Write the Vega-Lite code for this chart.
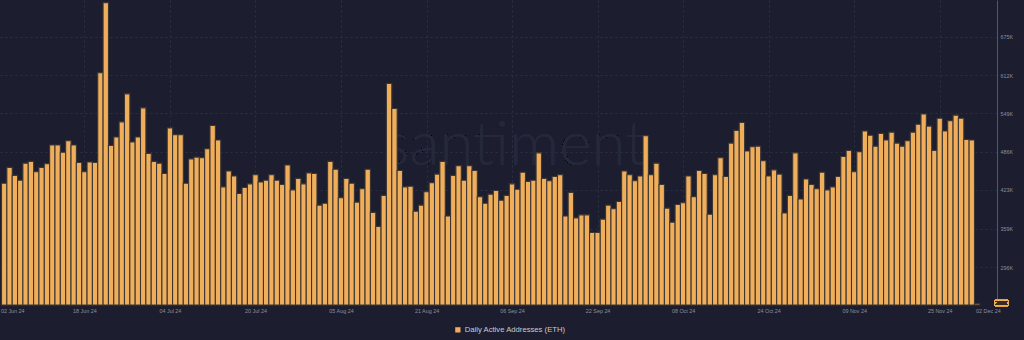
{
  "$schema": "https://vega.github.io/schema/vega-lite/v6.json",
  "width": 997,
  "height": 305,
  "autosize": {"type": "none"},
  "padding": {"left": 0, "top": 0, "right": 27, "bottom": 35},
  "background": "#1c1e2f",
  "config": {
    "font": "Liberation Sans",
    "view": {"stroke": null}
  },
  "data": {
    "values": [
      {"date": "2024-06-03", "value": 434000}, {"date": "2024-06-04", "value": 460000}, {"date": "2024-06-05", "value": 447000}, {"date": "2024-06-06", "value": 439000}, {"date": "2024-06-07", "value": 467000}, {"date": "2024-06-08", "value": 470000}, {"date": "2024-06-09", "value": 453000}, {"date": "2024-06-10", "value": 460000}, {"date": "2024-06-11", "value": 466000}, {"date": "2024-06-12", "value": 497000}, {"date": "2024-06-13", "value": 497000}, {"date": "2024-06-14", "value": 485000}, {"date": "2024-06-15", "value": 504000}, {"date": "2024-06-16", "value": 497000}, {"date": "2024-06-17", "value": 468000}, {"date": "2024-06-18", "value": 453000}, {"date": "2024-06-19", "value": 469000}, {"date": "2024-06-20", "value": 468000}, {"date": "2024-06-21", "value": 616000}, {"date": "2024-06-22", "value": 731000}, {"date": "2024-06-23", "value": 496000}, {"date": "2024-06-24", "value": 510000}, {"date": "2024-06-25", "value": 535000}, {"date": "2024-06-26", "value": 581000}, {"date": "2024-06-27", "value": 502000}, {"date": "2024-06-28", "value": 510000}, {"date": "2024-06-29", "value": 558000}, {"date": "2024-06-30", "value": 483000},
      {"date": "2024-07-01", "value": 470000}, {"date": "2024-07-02", "value": 467000}, {"date": "2024-07-03", "value": 450000}, {"date": "2024-07-04", "value": 525000}, {"date": "2024-07-05", "value": 514000}, {"date": "2024-07-06", "value": 514000}, {"date": "2024-07-07", "value": 434000}, {"date": "2024-07-08", "value": 474000}, {"date": "2024-07-09", "value": 477000}, {"date": "2024-07-10", "value": 476000}, {"date": "2024-07-11", "value": 491000}, {"date": "2024-07-12", "value": 529000}, {"date": "2024-07-13", "value": 505000}, {"date": "2024-07-14", "value": 428000}, {"date": "2024-07-15", "value": 454000}, {"date": "2024-07-16", "value": 446000}, {"date": "2024-07-17", "value": 417000}, {"date": "2024-07-18", "value": 427000}, {"date": "2024-07-19", "value": 433000}, {"date": "2024-07-20", "value": 448000}, {"date": "2024-07-21", "value": 436000}, {"date": "2024-07-22", "value": 439000}, {"date": "2024-07-23", "value": 448000}, {"date": "2024-07-24", "value": 439000}, {"date": "2024-07-25", "value": 432000}, {"date": "2024-07-26", "value": 464000}, {"date": "2024-07-27", "value": 423000}, {"date": "2024-07-28", "value": 442000}, {"date": "2024-07-29", "value": 433000}, {"date": "2024-07-30", "value": 451000}, {"date": "2024-07-31", "value": 450000},
      {"date": "2024-08-01", "value": 398000}, {"date": "2024-08-02", "value": 401000}, {"date": "2024-08-03", "value": 470000}, {"date": "2024-08-04", "value": 457000}, {"date": "2024-08-05", "value": 410000}, {"date": "2024-08-06", "value": 442000}, {"date": "2024-08-07", "value": 434000}, {"date": "2024-08-08", "value": 403000}, {"date": "2024-08-09", "value": 425000}, {"date": "2024-08-10", "value": 457000}, {"date": "2024-08-11", "value": 386000}, {"date": "2024-08-12", "value": 363000}, {"date": "2024-08-13", "value": 414000}, {"date": "2024-08-14", "value": 598000}, {"date": "2024-08-15", "value": 557000}, {"date": "2024-08-16", "value": 455000}, {"date": "2024-08-17", "value": 428000}, {"date": "2024-08-18", "value": 429000}, {"date": "2024-08-19", "value": 388000}, {"date": "2024-08-20", "value": 398000}, {"date": "2024-08-21", "value": 420000}, {"date": "2024-08-22", "value": 435000}, {"date": "2024-08-23", "value": 449000}, {"date": "2024-08-24", "value": 470000}, {"date": "2024-08-25", "value": 380000}, {"date": "2024-08-26", "value": 447000}, {"date": "2024-08-27", "value": 463000}, {"date": "2024-08-28", "value": 439000}, {"date": "2024-08-29", "value": 463000}, {"date": "2024-08-30", "value": 455000}, {"date": "2024-08-31", "value": 412000},
      {"date": "2024-09-01", "value": 401000}, {"date": "2024-09-02", "value": 416000}, {"date": "2024-09-03", "value": 422000}, {"date": "2024-09-04", "value": 406000}, {"date": "2024-09-05", "value": 414000}, {"date": "2024-09-06", "value": 433000}, {"date": "2024-09-07", "value": 424000}, {"date": "2024-09-08", "value": 452000}, {"date": "2024-09-09", "value": 437000}, {"date": "2024-09-10", "value": 439000}, {"date": "2024-09-11", "value": 484000}, {"date": "2024-09-12", "value": 442000}, {"date": "2024-09-13", "value": 438000}, {"date": "2024-09-14", "value": 445000}, {"date": "2024-09-15", "value": 448000}, {"date": "2024-09-16", "value": 380000}, {"date": "2024-09-17", "value": 419000}, {"date": "2024-09-18", "value": 377000}, {"date": "2024-09-19", "value": 382000}, {"date": "2024-09-20", "value": 382000}, {"date": "2024-09-21", "value": 353000}, {"date": "2024-09-22", "value": 353000}, {"date": "2024-09-23", "value": 375000}, {"date": "2024-09-24", "value": 398000}, {"date": "2024-09-25", "value": 392000}, {"date": "2024-09-26", "value": 404000}, {"date": "2024-09-27", "value": 454000}, {"date": "2024-09-28", "value": 448000}, {"date": "2024-09-29", "value": 438000}, {"date": "2024-09-30", "value": 446000},
      {"date": "2024-10-01", "value": 512000}, {"date": "2024-10-02", "value": 448000}, {"date": "2024-10-03", "value": 467000}, {"date": "2024-10-04", "value": 432000}, {"date": "2024-10-05", "value": 393000}, {"date": "2024-10-06", "value": 370000}, {"date": "2024-10-07", "value": 399000}, {"date": "2024-10-08", "value": 402000}, {"date": "2024-10-09", "value": 446000}, {"date": "2024-10-10", "value": 412000}, {"date": "2024-10-11", "value": 455000}, {"date": "2024-10-12", "value": 450000}, {"date": "2024-10-13", "value": 383000}, {"date": "2024-10-14", "value": 448000}, {"date": "2024-10-15", "value": 476000}, {"date": "2024-10-16", "value": 445000}, {"date": "2024-10-17", "value": 500000}, {"date": "2024-10-18", "value": 521000}, {"date": "2024-10-19", "value": 534000}, {"date": "2024-10-20", "value": 487000}, {"date": "2024-10-21", "value": 494000}, {"date": "2024-10-22", "value": 495000}, {"date": "2024-10-23", "value": 471000}, {"date": "2024-10-24", "value": 446000}, {"date": "2024-10-25", "value": 456000}, {"date": "2024-10-26", "value": 449000}, {"date": "2024-10-27", "value": 385000}, {"date": "2024-10-28", "value": 414000}, {"date": "2024-10-29", "value": 484000}, {"date": "2024-10-30", "value": 408000}, {"date": "2024-10-31", "value": 441000},
      {"date": "2024-11-01", "value": 432000}, {"date": "2024-11-02", "value": 425000}, {"date": "2024-11-03", "value": 452000}, {"date": "2024-11-04", "value": 423000}, {"date": "2024-11-05", "value": 428000}, {"date": "2024-11-06", "value": 445000}, {"date": "2024-11-07", "value": 478000}, {"date": "2024-11-08", "value": 488000}, {"date": "2024-11-09", "value": 453000}, {"date": "2024-11-10", "value": 486000}, {"date": "2024-11-11", "value": 520000}, {"date": "2024-11-12", "value": 513000}, {"date": "2024-11-13", "value": 495000}, {"date": "2024-11-14", "value": 516000}, {"date": "2024-11-15", "value": 505000}, {"date": "2024-11-16", "value": 518000}, {"date": "2024-11-17", "value": 500000}, {"date": "2024-11-18", "value": 495000}, {"date": "2024-11-19", "value": 504000}, {"date": "2024-11-20", "value": 518000}, {"date": "2024-11-21", "value": 531000}, {"date": "2024-11-22", "value": 548000}, {"date": "2024-11-23", "value": 528000}, {"date": "2024-11-24", "value": 488000}, {"date": "2024-11-25", "value": 541000}, {"date": "2024-11-26", "value": 520000}, {"date": "2024-11-27", "value": 537000}, {"date": "2024-11-28", "value": 546000}, {"date": "2024-11-29", "value": 541000}, {"date": "2024-11-30", "value": 506000},
      {"date": "2024-12-01", "value": 505000}, {"date": "2024-12-02", "value": 236000}
    ]
  },
  "encoding": {
    "x": {
      "field": "date",
      "type": "temporal",
      "title": null,
      "scale": {
        "type": "utc",
        "domain": [
          {"year": 2024, "month": 6, "date": 3, "hours": 3, "minutes": 33, "utc": true},
          {"year": 2024, "month": 12, "date": 4, "hours": 18, "minutes": 43, "utc": true}
        ]
      },
      "axis": {
        "values": [
          {"year": 2024, "month": 6, "date": 4, "hours": 12, "utc": true},
          {"year": 2024, "month": 6, "date": 18, "utc": true},
          {"year": 2024, "month": 7, "date": 4, "utc": true},
          {"year": 2024, "month": 7, "date": 20, "utc": true},
          {"year": 2024, "month": 8, "date": 5, "utc": true},
          {"year": 2024, "month": 8, "date": 21, "utc": true},
          {"year": 2024, "month": 9, "date": 6, "utc": true},
          {"year": 2024, "month": 9, "date": 22, "utc": true},
          {"year": 2024, "month": 10, "date": 8, "utc": true},
          {"year": 2024, "month": 10, "date": 24, "utc": true},
          {"year": 2024, "month": 11, "date": 9, "utc": true},
          {"year": 2024, "month": 11, "date": 25, "utc": true},
          {"year": 2024, "month": 12, "date": 4, "utc": true}
        ],
        "labelExpr": "datum.value < 1717600000000 ? '02 Jun 24' : (datum.value > 1733000000000 ? '02 Dec 24' : utcFormat(datum.value, '%d %b %y'))",
        "labelFontSize": 5.4,
        "labelColor": "#8b8e9c",
        "labelPadding": 3,
        "labelFlush": false,
        "labelOverlap": false,
        "labelBound": false,
        "ticks": false,
        "domain": false,
        "grid": true,
        "gridColor": "#2c3045",
        "gridDash": [2, 3],
        "gridWidth": 1,
        "gridOpacity": {"condition": {"test": "datum.value < 1717600000000 || datum.value > 1733000000000", "value": 0}, "value": 1}
      }
    },
    "y": {
      "field": "value",
      "type": "quantitative",
      "title": null,
      "scale": {"domain": [233700, 735400], "zero": false, "nice": false},
      "axis": {
        "orient": "right",
        "values": [296000, 359000, 423000, 486000, 549000, 612000, 675000],
        "labelExpr": "format(datum.value / 1000, 'd') + 'K'",
        "labelFontSize": 5.4,
        "labelColor": "#8b8e9c",
        "labelPadding": 3,
        "ticks": false,
        "domain": true,
        "domainColor": "#6a5538",
        "domainWidth": 1,
        "grid": true,
        "gridColor": "#2c3045",
        "gridDash": [2, 3],
        "gridWidth": 1
      }
    }
  },
  "layer": [
    {
      "mark": {"type": "text", "font": "Lato", "fontWeight": 300, "fontSize": 62, "align": "center", "baseline": "alphabetic", "color": "#25283a"},
      "encoding": {
        "x": {"datum": {"year": 2024, "month": 9, "date": 6, "hours": 12, "utc": true}, "type": "temporal"},
        "y": {"datum": 464000, "type": "quantitative"},
        "text": {"value": "santiment"}
      }
    },
    {
      "mark": {"type": "bar", "width": 5.4, "stroke": "#3b3634", "strokeWidth": 1.1},
      "encoding": {
        "y2": {"datum": 233700},
        "color": {
          "datum": "Daily Active Addresses (ETH)",
          "type": "nominal",
          "scale": {"range": ["#f0ae5a"]},
          "legend": {
            "orient": "none",
            "legendX": 454,
            "legendY": 326,
            "title": null,
            "padding": 0,
            "symbolType": "square",
            "symbolSize": 28,
            "symbolStrokeWidth": 0,
            "labelFontSize": 7.7,
            "labelColor": "#c9cbd3",
            "labelOffset": 3
          }
        }
      }
    },
    {
      "mark": {"type": "rect", "fill": "#f0ae5a", "stroke": null, "opacity": 1},
      "encoding": {
        "x": {"datum": {"year": 2024, "month": 12, "date": 5, "hours": 6, "utc": true}, "type": "temporal"},
        "x2": {"datum": {"year": 2024, "month": 12, "date": 7, "hours": 20, "utc": true}},
        "y": {"datum": 242000, "type": "quantitative"},
        "y2": {"datum": 232000}
      }
    },
    {
      "mark": {"type": "text", "fontSize": 5, "align": "center", "baseline": "middle", "color": "#3a2c1a"},
      "encoding": {
        "x": {"datum": {"year": 2024, "month": 12, "date": 6, "hours": 13, "utc": true}, "type": "temporal"},
        "y": {"datum": 237000, "type": "quantitative"},
        "text": {"value": "236K"}
      }
    }
  ]
}
